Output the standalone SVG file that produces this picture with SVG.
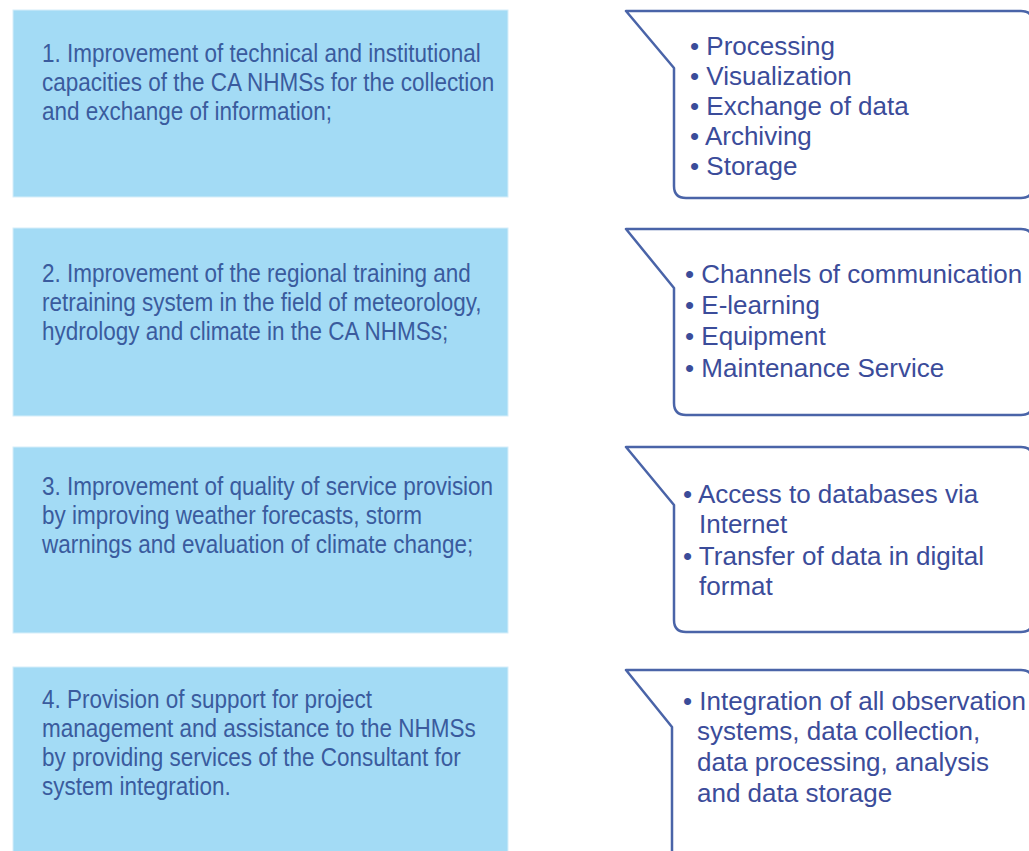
<svg xmlns="http://www.w3.org/2000/svg" width="1029" height="851" viewBox="0 0 1029 851">
<style>
.box{fill:#a3dbf5;stroke:#d6eef9;stroke-width:1}
.lt{font-family:"Liberation Sans",Arial,sans-serif;font-size:25px;fill:#3a5b9e}
.call{fill:#ffffff;stroke:#4a64a8;stroke-width:2.5;stroke-linejoin:round}
.ct{font-family:"Liberation Sans",Arial,sans-serif;font-size:26px;fill:#3b4c9a}
</style>
<rect width="1029" height="851" fill="#ffffff"/>
<g id="item1">
<rect class="box" x="13" y="10" width="495" height="187"/>
<g transform="translate(42,0) scale(0.9,1)">
<text class="lt" x="0" y="62">1. Improvement of technical and institutional</text>
<text class="lt" x="0" y="91">capacities of the CA NHMSs for the collection</text>
<text class="lt" x="0" y="120">and exchange of information;</text>
</g>
</g>
<g id="item2">
<rect class="box" x="13" y="228" width="495" height="188"/>
<g transform="translate(42,0) scale(0.9,1)">
<text class="lt" x="0" y="282">2. Improvement of the regional training and</text>
<text class="lt" x="0" y="311">retraining system in the field of meteorology,</text>
<text class="lt" x="0" y="340">hydrology and climate in the CA NHMSs;</text>
</g>
</g>
<g id="item3">
<rect class="box" x="13" y="447" width="495" height="186"/>
<g transform="translate(42,0) scale(0.9,1)">
<text class="lt" x="0" y="495">3. Improvement of quality of service provision</text>
<text class="lt" x="0" y="524">by improving weather forecasts, storm</text>
<text class="lt" x="0" y="553">warnings and evaluation of climate change;</text>
</g>
</g>
<g id="item4">
<rect class="box" x="13" y="667" width="495" height="190"/>
<g transform="translate(42,0) scale(0.9,1)">
<text class="lt" x="0" y="708">4. Provision of support for project</text>
<text class="lt" x="0" y="737">management and assistance to the NHMSs</text>
<text class="lt" x="0" y="766">by providing services of the Consultant for</text>
<text class="lt" x="0" y="795">system integration.</text>
</g>
</g>
<g id="callout1">
<path class="call" d="M626,11 L1021,11 Q1033,11 1033,23 L1033,186 Q1033,198 1021,198 L686,198 Q674,198 674,186 L674,68 Z"/>
<text class="ct" x="690" y="55">• Processing</text>
<text class="ct" x="690" y="85">• Visualization</text>
<text class="ct" x="690" y="115">• Exchange of data</text>
<text class="ct" x="690" y="145">• Archiving</text>
<text class="ct" x="690" y="175">• Storage</text>
</g>
<g id="callout2">
<path class="call" d="M626,229 L1021,229 Q1033,229 1033,241 L1033,403 Q1033,415 1021,415 L686,415 Q674,415 674,403 L674,288 Z"/>
<text class="ct" x="685" y="283">• Channels of communication</text>
<text class="ct" x="685" y="314">• E-learning</text>
<text class="ct" x="685" y="345">• Equipment</text>
<text class="ct" x="685" y="377">• Maintenance Service</text>
</g>
<g id="callout3">
<path class="call" d="M626,447 L1021,447 Q1033,447 1033,459 L1033,620 Q1033,632 1021,632 L686,632 Q674,632 674,620 L674,505 Z"/>
<text class="ct" x="683" y="503">• Access to databases via</text>
<text class="ct" x="699" y="533">Internet</text>
<text class="ct" x="683" y="565">• Transfer of data in digital</text>
<text class="ct" x="699" y="595">format</text>
</g>
<g id="callout4">
<path class="call" d="M626,670 L1021,670 Q1033,670 1033,682 L1033,860 Q1033,872 1021,872 L684,872 Q672,872 672,860 L672,727 Z"/>
<text class="ct" x="683" y="710">• Integration of all observation</text>
<text class="ct" x="697" y="740">systems, data collection,</text>
<text class="ct" x="697" y="771">data processing, analysis</text>
<text class="ct" x="697" y="802">and data storage</text>
</g>
<g id="connectors"></g>
</svg>
